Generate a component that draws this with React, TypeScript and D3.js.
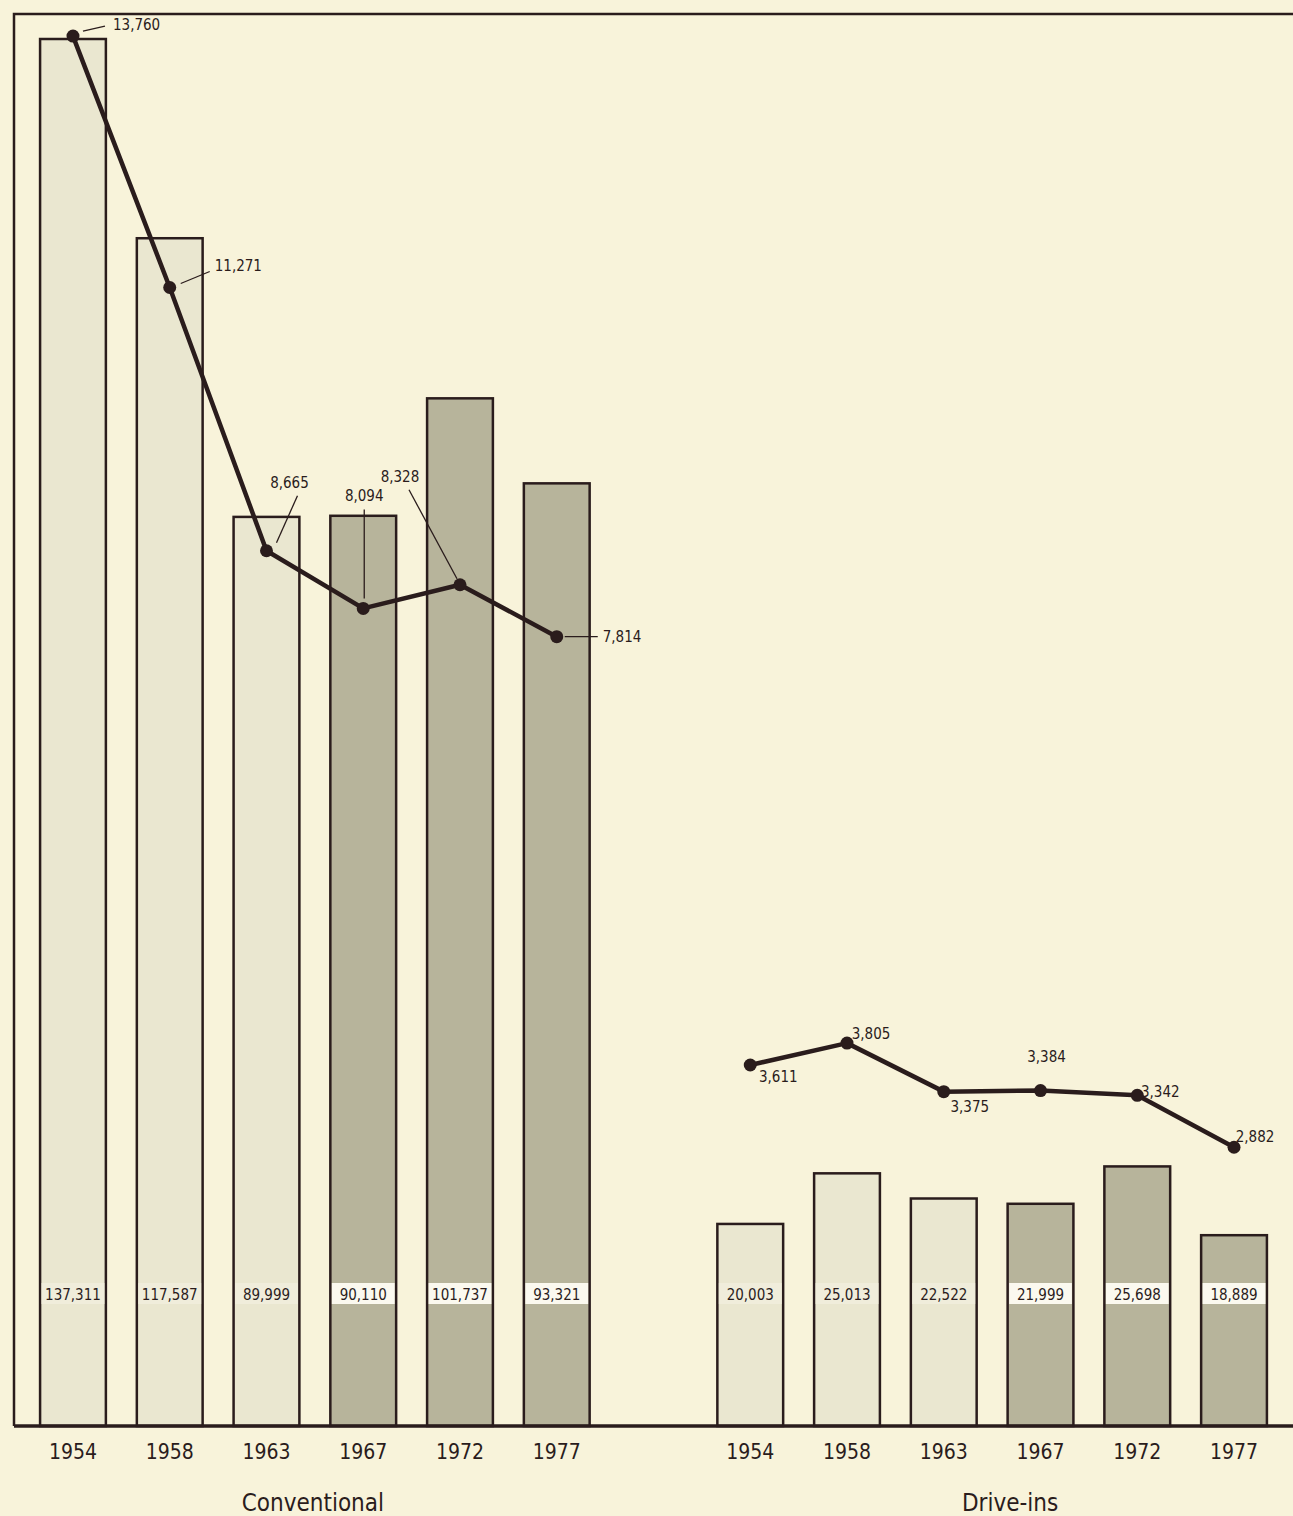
import React from "react";
import * as d3 from "d3";

const years = ["1954", "1958", "1963", "1967", "1972", "1977"];
const groups = ["Conventional", "Drive-ins"];
const conventionalSeats = [137311, 117587, 89999, 90110, 101737, 93321];
const driveInSpaces = [20003, 25013, 22522, 21999, 25698, 18889];
const conventionalTheaters = [13760, 11271, 8665, 8094, 8328, 7814];
const driveInTheaters = [3611, 3805, 3375, 3384, 3342, 2882];
const darkYears = ["1967", "1972", "1977"];

// label layout (offsets from each point)
const convLabelLayout = [
  { dx: 40, dy: -6, anchor: "start", leader: [10, -5, 32, -10] },
  { dx: 45, dy: -16, anchor: "start", leader: [11, -4, 40, -16] },
  { dx: 23, dy: -63, anchor: "middle", leader: [10, -8, 31, -55] },
  { dx: 1, dy: -107, anchor: "middle", leader: [1, -10, 1, -99] },
  { dx: -60, dy: -103, anchor: "middle", leader: [-3, -6, -51, -95] },
  { dx: 46, dy: 5, anchor: "start", leader: [8, 0, 41, 0] },
];
const driveLabelLayout = [
  { dx: 28, dy: 17 },
  { dx: 24, dy: -4 },
  { dx: 26, dy: 20 },
  { dx: 6, dy: -29 },
  { dx: 23, dy: 2 },
  { dx: 21, dy: -5 },
];

const W = 1293;
const H = 1516;
const BASE = 1426;
const FONT = "'Liberation Sans Narrow', 'DejaVu Sans Condensed', 'Roboto Condensed', sans-serif";
const BG = "#f8f3da";
const LIGHT = "#eae7d0";
const DARK = "#b7b49b";
const INK = "#2a1c1c";

export default function App() {
  const keys = [
    ...years.map((y) => "C" + y),
    "gap",
    ...years.map((y) => "D" + y),
  ];
  const x = d3
    .scaleBand<string>()
    .domain(keys)
    .range([24.6, 1282.4])
    .paddingInner(0.32)
    .paddingOuter(0.16);
  const y = d3.scaleLinear().domain([0, 137311]).range([BASE, 39]);
  const yTheaters = d3.scaleLinear().domain([0, 13731.1]).range([BASE, 39]);
  const yDrive = d3.scaleLinear().domain([2800, 3900]).range([1156.5, 1032.4]);

  const line = d3
    .line<{ cx: number; cy: number }>()
    .x((d) => d.cx)
    .y((d) => d.cy);

  const bw = x.bandwidth();
  const bars = [
    ...conventionalSeats.map((v, i) => ({ key: "C" + years[i], year: years[i], v })),
    ...driveInSpaces.map((v, i) => ({ key: "D" + years[i], year: years[i], v })),
  ];

  const convPts = conventionalTheaters.map((v, i) => ({
    v,
    cx: (x("C" + years[i]) as number) + bw / 2,
    cy: yTheaters(v),
  }));
  const drivePts = driveInTheaters.map((v, i) => ({
    v,
    cx: (x("D" + years[i]) as number) + bw / 2,
    cy: yDrive(v),
  }));
  const fmt = d3.format(",");

  const convCenter = ((x("C1954") as number) + (x("C1977") as number) + bw) / 2 - 2;
  const driveCenter = ((x("D1954") as number) + (x("D1977") as number) + bw) / 2 + 18;

  return (
    <svg
      width={W}
      height={H}
      style={{ position: "absolute", left: 0, top: 0 }}
      fontFamily={FONT}
    >
      <rect x={0} y={0} width={W} height={H} fill={BG} />
      {/* frame */}
      <path d={`M14,${BASE} L14,14 L${W},14`} fill="none" stroke={INK} strokeWidth={2.5} />
      {bars.map((b) => {
        const bx = x(b.key) as number;
        const dark = darkYears.includes(b.year);
        return (
          <g key={b.key}>
            <rect
              x={bx}
              y={y(b.v)}
              width={bw}
              height={BASE - y(b.v)}
              fill={dark ? DARK : LIGHT}
              stroke={INK}
              strokeWidth={2.5}
            />
            <rect
              x={bx + 1.5}
              y={1283}
              width={bw - 3}
              height={21}
              fill={dark ? "#fbf9ef" : "#f0eddb"}
            />
            <text
              x={bx + bw / 2}
              y={1300}
              textAnchor="middle"
              fontSize={15}
              fill={INK}
            >
              {fmt(b.v)}
            </text>
          </g>
        );
      })}
      {/* baseline */}
      <line x1={14} x2={W} y1={BASE} y2={BASE} stroke={INK} strokeWidth={3.5} />
      {/* year labels */}
      {keys
        .filter((k) => k !== "gap")
        .map((k) => (
          <text
            key={"t" + k}
            x={(x(k) as number) + bw / 2}
            y={1459}
            textAnchor="middle"
            fontSize={21}
            fill={INK}
          >
            {k.slice(1)}
          </text>
        ))}
      <text x={convCenter} y={1511} textAnchor="middle" fontSize={24} fill={INK}>
        {groups[0]}
      </text>
      <text x={driveCenter} y={1511} textAnchor="middle" fontSize={24} fill={INK}>
        {groups[1]}
      </text>

      {/* conventional theaters line */}
      {convPts.map((p, i) => {
        const L = convLabelLayout[i];
        return (
          <g key={"cl" + i}>
            <line
              x1={p.cx + L.leader[0]}
              y1={p.cy + L.leader[1]}
              x2={p.cx + L.leader[2]}
              y2={p.cy + L.leader[3]}
              stroke={INK}
              strokeWidth={1.3}
            />
            <text
              x={p.cx + L.dx}
              y={p.cy + L.dy}
              textAnchor={L.anchor as any}
              fontSize={15}
              fill={INK}
            >
              {fmt(p.v)}
            </text>
          </g>
        );
      })}
      <path d={line(convPts) || ""} fill="none" stroke={INK} strokeWidth={4.5} strokeLinejoin="round" />
      {convPts.map((p, i) => (
        <circle key={"cp" + i} cx={p.cx} cy={p.cy} r={6.5} fill={INK} />
      ))}

      {/* drive-in theaters line */}
      <path d={line(drivePts) || ""} fill="none" stroke={INK} strokeWidth={4.5} strokeLinejoin="round" />
      {drivePts.map((p, i) => {
        const L = driveLabelLayout[i];
        return (
          <g key={"dp" + i}>
            <circle cx={p.cx} cy={p.cy} r={6.5} fill={INK} />
            <text
              x={p.cx + L.dx}
              y={p.cy + L.dy}
              textAnchor="middle"
              fontSize={15}
              fill={INK}
            >
              {fmt(p.v)}
            </text>
          </g>
        );
      })}
    </svg>
  );
}
